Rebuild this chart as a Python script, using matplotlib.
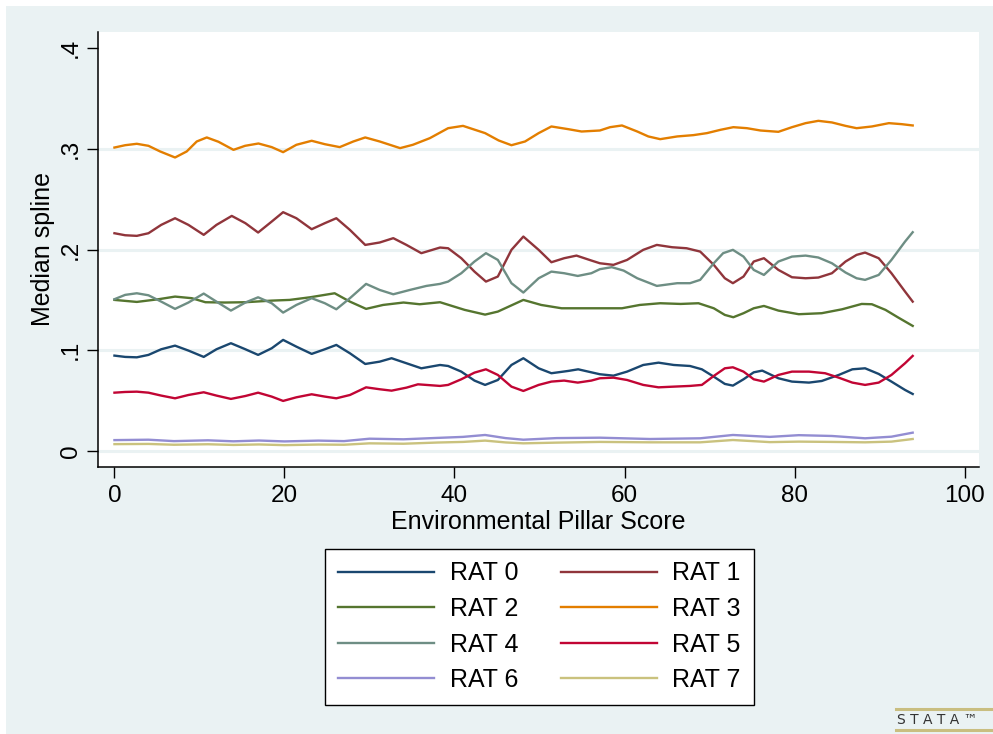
import matplotlib
matplotlib.use('Agg')
import matplotlib.pyplot as plt
import numpy as np

plt.rcParams['font.family'] = ['Liberation Sans', 'DejaVu Sans']

# median spline values
rat0_x = [0, 1.26, 2.63, 4.0, 5.5, 7.13, 8.7, 10.5, 12.0, 13.7, 15.4, 16.9, 18.5,
          19.84, 21.4, 23.2, 24.75, 26.1, 27.7, 29.5, 31.2, 32.6, 34.35, 36.1, 38.3,
          39.25, 40.8, 42.35, 43.6, 45.1, 46.7, 48.1, 49.9, 51.4, 53.4, 54.55, 56.1,
          57.1, 58.7, 60.3, 62.2, 64.0, 65.8, 67.7, 69.1, 70.5, 71.8, 72.75, 74.0, 75.2, 76.2,
          78.1, 79.7, 81.7, 83.2, 85.2, 86.8, 88.3, 89.9, 91.4, 93.0, 93.9]
rat0_y = [.0947, .0934, .093, .0954, .101, .1046, .0997, .0934, .101, .107, .101, .0954, .102,
          .1103, .1036, .0964, .101, .1053, .097, .0864, .0887, .0921, .0871, .0821, .0854,
          .0844, .0788, .0699, .0656, .0705, .0854, .0921, .0821, .0772, .0795, .0811, .0781,
          .0762, .0748, .0788, .0854, .0877, .0854, .0844, .0811, .0738, .0666, .0649, .0712, .0781, .0798,
          .0722, .0689, .0679, .0695, .0755, .0811, .0821, .0765, .0689, .0606, .0566]

rat1_x = [0, 1.26, 2.63, 4.0, 5.5, 7.13, 8.7, 10.5, 12.0, 13.8, 15.4, 16.9, 18.5,
          19.84, 21.4, 23.2, 24.75, 26.1, 27.7, 29.5, 31.2, 32.8, 34.35, 36.1, 38.3,
          39.25, 40.8, 42.35, 43.7, 45.1, 46.7, 48.1, 49.9, 51.4, 52.9, 54.35, 56.1,
          57.1, 58.7, 60.3, 62.2, 63.8, 65.6, 67.3, 68.9, 70.5, 71.8, 72.75, 74.0, 75.2, 76.4,
          78.1, 79.7, 81.3, 82.8, 84.4, 86.0, 87.3, 88.3, 89.9, 91.4, 93.0, 93.9]
rat1_y = [.2162, .2142, .2136, .2162, .2245, .2311, .2245, .2146, .2245, .2334, .2262, .2169, .2278,
          .2371, .2311, .2202, .2262, .2311, .2195, .2046, .2070, .2113, .2046, .1964, .202,
          .2013, .1914, .1781, .1682, .1732, .1997, .2129, .1997, .1874, .1914, .194, .1891,
          .1864, .1848, .1897, .1997, .2046, .2023, .2013, .198, .1848, .1715, .1666, .1732, .1881, .1914,
          .1798, .1725, .1715, .1722, .1765, .1881, .1947, .197, .1914, .1765, .1583, .1483]

rat2_x = [0, 2.63, 5.2, 7.13, 9.1, 10.7, 13.0, 15.4, 18.5,
          20.6, 23.0, 25.9, 27.7, 29.6, 31.6, 34.0, 35.9, 38.3,
          41.2, 43.6, 45.1, 48.1, 50.2, 52.6, 56.1,
          59.7, 61.8, 64.2, 66.6, 68.7, 70.5, 71.8, 72.8, 74.0, 75.2, 76.4,
          78.1, 80.5, 83.2, 85.6, 87.9, 89.1, 90.7, 92.2, 93.9]
rat2_y = [.15, .148, .1507, .1533, .1517, .1477, .1474, .1477, .1493,
          .15, .1526, .1566, .1483, .1411, .145, .1474, .1457, .1477,
          .1401, .1354, .1384, .15, .145, .1417, .1417,
          .1417, .145, .1467, .146, .1467, .1417, .1351, .1328, .1368, .1417, .144,
          .1394, .1358, .1368, .1407, .146, .1457, .1401, .1325, .1242]

rat3_x = [0, 1.26, 2.63, 4.0, 5.37, 7.13, 8.5, 9.68, 10.86, 12.24, 14.0, 15.37, 16.94, 18.5,
          19.84, 21.4, 23.2, 24.75, 26.5, 28.1, 29.5, 31.2, 33.6, 35.1, 37.1,
          39.25, 41.0, 43.6, 45.2, 46.7, 48.3, 49.9, 51.4, 53.4, 54.95,
          57.1, 58.3, 59.7, 61.5, 62.8, 64.2, 66.2, 68.1, 69.7, 71.3, 72.8, 74.4, 76.0,
          78.1, 79.7, 81.3, 82.8, 84.4, 86.0, 87.3, 89.1, 91.1, 92.6, 93.9]
rat3_y = [.3013, .3036, .305, .303, .2974, .2914, .2974, .3073, .3113, .307, .299, .303, .3053, .3017,
          .2967, .304, .308, .3046, .3017, .3073, .3113, .3073, .3007, .304, .3106,
          .3205, .3228, .3156, .3083, .3036, .3073, .3156, .3222, .3195, .3172,
          .3182, .3215, .3232, .3172, .3123, .3096, .3123, .3136, .3156, .3189, .3215, .3205, .3182,
          .3169, .3215, .3255, .3278, .3262, .3228, .3205, .3222, .3255, .3245, .3232]

rat4_x = [0, 1.26, 2.63, 4.0, 5.5, 7.13, 8.7, 10.5, 12.0, 13.7, 15.4, 16.9, 18.5,
          19.84, 21.4, 23.2, 24.75, 26.1, 27.7, 29.6, 31.2, 32.8, 34.75, 36.7, 38.3,
          39.25, 40.8, 42.35, 43.7, 45.1, 46.7, 48.1, 49.9, 51.4, 52.9, 54.5, 56.1,
          57.1, 58.5, 59.9, 61.5, 63.8, 66.2, 67.7, 68.9, 70.5, 71.6, 72.75, 74.0, 75.2, 76.4,
          78.1, 79.7, 81.3, 82.8, 84.4, 86.0, 87.3, 88.3, 89.9, 91.4, 93.0, 93.9]
rat4_y = [.1507, .155, .1566, .1546, .1483, .1411, .1474, .1563, .1483, .1394, .1474, .1526, .1467,
          .1374, .145, .1517, .1467, .1407, .1517, .1659, .1599, .1556, .1599, .1639, .1659,
          .1682, .1765, .1881, .1964, .1897, .1666, .1573, .1715, .1781, .1765, .1738, .1765,
          .1805, .1825, .1791, .1715, .1639, .1666, .1666, .1699, .1864, .1964, .1997, .193, .1798, .1748,
          .1881, .193, .194, .1921, .1864, .1772, .1715, .1699, .1748, .1897, .2079, .2172]

rat5_x = [0, 1.26, 2.63, 4.0, 5.5, 7.13, 8.7, 10.5, 12.0, 13.7, 15.4, 16.9, 18.5,
          19.84, 21.4, 23.2, 24.75, 26.1, 27.7, 29.6, 31.2, 32.6, 34.35, 35.7, 38.3,
          39.25, 40.8, 42.35, 43.7, 45.1, 46.7, 48.1, 49.9, 51.4, 52.9, 54.5, 56.1,
          57.1, 58.7, 60.3, 62.2, 64.0, 65.8, 67.7, 69.1, 70.5, 71.8, 72.75, 74.0, 75.2, 76.4,
          78.1, 79.7, 81.7, 83.6, 85.2, 86.8, 88.3, 89.9, 91.4, 93.0, 93.9]
rat5_y = [.0579, .0586, .0589, .0579, .055, .0523, .0556, .0583, .055, .0517, .0546, .0579, .054,
          .0497, .0533, .0563, .054, .0523, .0556, .0632, .0613, .0599, .0629, .0662, .0646,
          .0656, .0712, .0778, .0811, .0755, .0639, .0596, .0656, .0689, .0699, .0679, .0699,
          .0722, .0728, .0705, .0656, .0632, .0639, .0646, .0656, .0745, .0821, .0831, .0788, .0712, .0689,
          .0755, .0788, .0788, .0772, .0728, .0679, .0656, .0679, .0755, .0871, .0944]

rat6_x = [0, 4, 7, 11, 14, 17, 20, 24, 27, 30, 34, 38, 41, 43.6, 46, 48.1, 52, 57.1, 63, 68.9, 72.75, 77.1, 80.5, 84.4, 88.3, 91.4, 93.9]
rat6_y = [.0108, .0112, .0098, .0106, .0096, .0104, .0095, .0103, .0098, .0122, .0116, .0130, .0140, .0159, .0128, .0112, .0128, .0132, .0119, .0126, .0159, .0140, .0157, .0149, .0126, .0142, .0182]

rat7_x = [0, 4, 7, 11, 14, 17, 20, 24, 27, 30, 34, 38, 41, 43.6, 46, 48.1, 52, 57.1, 63, 68.9, 72.75, 77.1, 80.5, 84.4, 88.3, 91.4, 93.9]
rat7_y = [.0068, .0070, .0062, .0067, .0060, .0065, .0058, .0064, .0062, .0076, .0072, .0084, .0090, .0103, .0085, .0076, .0083, .0090, .0086, .0086, .0109, .0088, .0093, .0090, .0086, .0093, .0119]

labels = ['RAT 0', 'RAT 1', 'RAT 2', 'RAT 3', 'RAT 4', 'RAT 5', 'RAT 6', 'RAT 7']
colors = ['#1A476F', '#90353B', '#55752F', '#E37E00', '#6E8E84', '#C10534', '#938DD2', '#CAC27E']
series = [(rat0_x, rat0_y), (rat1_x, rat1_y), (rat2_x, rat2_y), (rat3_x, rat3_y),
          (rat4_x, rat4_y), (rat5_x, rat5_y), (rat6_x, rat6_y), (rat7_x, rat7_y)]

xticks = [0, 20, 40, 60, 80, 100]
yticks = [0, .1, .2, .3, .4]
ytick_labels = ['0', '.1', '.2', '.3', '.4']
grid_y = [0, .1, .2, .3]

bg = '#EAF2F3'
W, H = 993, 734
fig = plt.figure(figsize=(W / 100, H / 100), dpi=100, facecolor='white')
fig.patches.append(plt.Rectangle((6 / W, 0), 1, 1 - 6 / H, transform=fig.transFigure,
                                 facecolor=bg, edgecolor='none', zorder=0))

ax = fig.add_axes([98.3 / W, 1 - 466.7 / H, (979 - 98.3) / W, (466.7 - 32) / H])
ax.set_zorder(2)
ax.set_facecolor('white')
for gy in grid_y:
    ax.axhline(gy, color=bg, lw=2.2, zorder=1)

handles = []
for (xs, ys), c, lab in zip(series, colors, labels):
    h, = ax.plot(xs, ys, color=c, lw=1.7, label=lab, zorder=3, solid_joinstyle='round')
    handles.append(h)

ax.set_xlim(-1.9, 101.7)
ax.set_ylim(-0.0156, 0.416)
ax.set_xticks(xticks)
ax.set_xticklabels([str(t) for t in xticks], fontsize=17.5)
ax.set_yticks(yticks)
ax.set_yticklabels(ytick_labels, fontsize=17.5, rotation=90, va='center')
ax.tick_params(axis='both', length=8, width=1, color='black', direction='out')
ax.tick_params(axis='x', pad=5)
ax.tick_params(axis='y', pad=4)
for s in ['top', 'right']:
    ax.spines[s].set_visible(False)
for s in ['left', 'bottom']:
    ax.spines[s].set_linewidth(1.1)

ax.set_xlabel('Environmental Pillar Score', fontsize=18, labelpad=2)
ax.set_ylabel('Median spline', fontsize=18, labelpad=3)

# legend, two columns like stata
leg_order = [0, 2, 4, 6, 1, 3, 5, 7]
leg = fig.legend([handles[i] for i in leg_order], [labels[i] for i in leg_order],
                 ncol=2, loc='upper left', bbox_to_anchor=(325 / W, 1 - 549 / H),
                 fontsize=18, frameon=True, fancybox=False, edgecolor='black', framealpha=1,
                 handlelength=3.84, handletextpad=0.64, columnspacing=1.7,
                 labelspacing=0.46, borderpad=0.5, borderaxespad=0)
leg.set_zorder(5)
leg.get_frame().set_linewidth(1.0)
leg.get_frame().set_facecolor('white')

# stata logo mark in the corner
fig.add_artist(plt.Line2D([896 / W, 1], [1 - 709 / H] * 2, color='#C9BE80', lw=2.2))
fig.add_artist(plt.Line2D([896 / W, 1], [1 - 730 / H] * 2, color='#C9BE80', lw=2.2))
fig.text(897 / W, 1 - 720 / H, 'S T A T A \u2122', fontsize=10, color='#333333', va='center', ha='left',
         family='DejaVu Sans')

fig.savefig('out.png', dpi=100, facecolor=fig.get_facecolor())
